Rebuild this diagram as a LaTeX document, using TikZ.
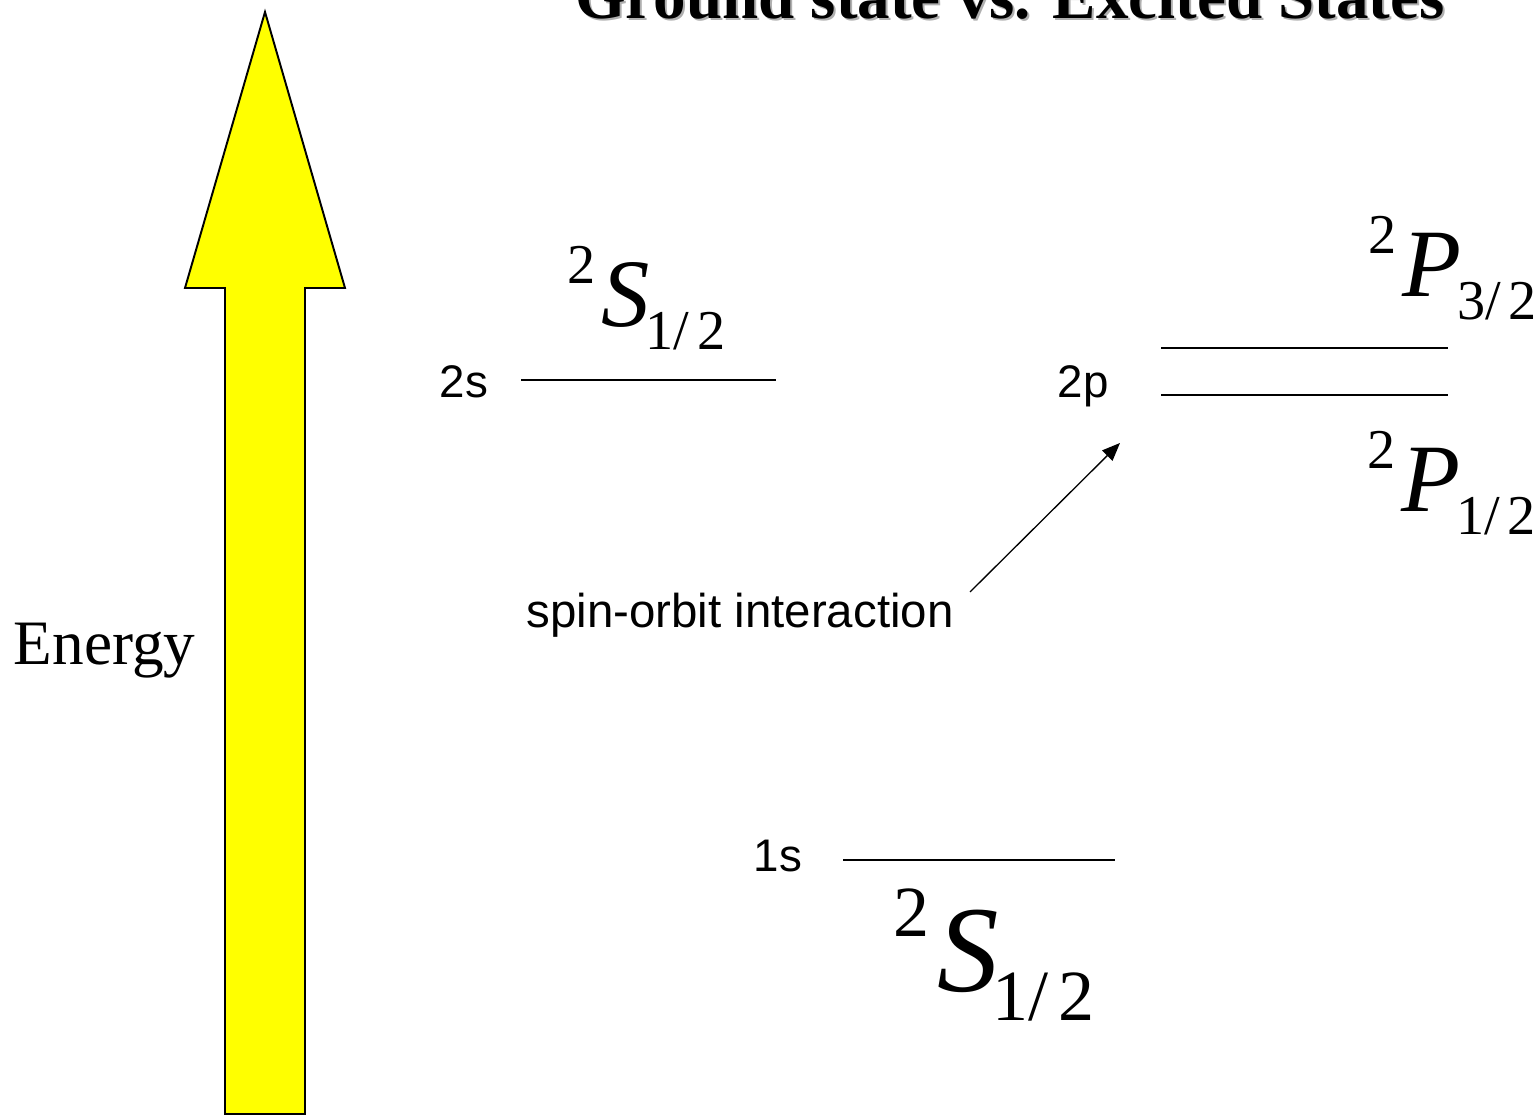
\documentclass[tikz,border=0pt]{standalone}
\usepackage{fontspec}
\setmainfont{Liberation Serif}
\setsansfont{Liberation Sans}
\usetikzlibrary{arrows.meta, positioning}
\definecolor{cyellow}{HTML}{FFFF00}
\definecolor{cshadow}{HTML}{B0B0B0}
% term symbol: #1 main size, #2 script size, #3 multiplicity, #4 letter, #5 J
\newcommand{\term}[5]{%
  \raisebox{0.45\dimexpr#1pt\relax}{\fontsize{#2}{#2}\selectfont #3}%
  \kern0.06\dimexpr#1pt\relax
  {\fontsize{#1}{#1}\selectfont\itshape #4}%
  \kern-0.05\dimexpr#1pt\relax
  \raisebox{-0.23\dimexpr#1pt\relax}{\fontsize{#2}{#2}\selectfont #5}}
\newcommand{\half}[1]{#1/\kern.14em 2}
\tikzset{
  every picture/.style={line width=1.1pt},
  level/.style={draw=black, line width=1.1pt},
  orb/.style={font=\sffamily\fontsize{26}{26}\selectfont, anchor=base, inner sep=0pt},
  termlbl/.style={anchor=base west, inner sep=0pt},
  arrow/.style={-{Triangle[length=3.6mm, width=2.9mm]}, line width=0.75pt},
  energy/.style={draw=black, fill=cyellow, line width=1.1pt, line join=miter},
  title/.style={font=\bfseries\fontsize{37}{37}\selectfont, anchor=base, inner sep=0pt},
}

\begin{document}
\begin{tikzpicture}
  \useasboundingbox (0,0) rectangle (30.78,22.32);
  % title, cut by the top edge
  \node[title, text=cshadow] (ttlshadow) at (20.24,21.90) {Ground state vs. Excited States};
  \node[title] (ttl) at (20.2,21.94) {Ground state vs. Excited States};
  % energy arrow
  \draw[energy] (4.50,0.04) -- (4.50,16.56) -- (3.70,16.56) -- (5.30,22.08)
    -- (6.90,16.56) -- (6.10,16.56) -- (6.10,0.04) -- cycle;
  \node[anchor=base west, inner sep=0pt, font=\fontsize{36}{36}\selectfont] (nrg) at (0.26,9.02) {Energy};
  % 2s
  \coordinate (s2a) at (10.42,14.72);
  \coordinate (s2b) at (15.52,14.72);
  \draw[level] (s2a) -- (s2b);
  \node[orb] (s2lbl) at (9.28,14.36) {2s};
  \node[termlbl] (s2term) at (11.34,15.78) {\term{55}{32}{2}{S}{\half{1}}};
  % 2p, split in two
  \coordinate (p2ua) at (23.22,15.36);
  \coordinate (p2ub) at (28.96,15.36);
  \coordinate (p2la) at (23.22,14.42);
  \coordinate (p2lb) at (28.96,14.42);
  \draw[level] (p2ua) -- (p2ub);
  \draw[level] (p2la) -- (p2lb);
  \node[orb] (p2lbl) at (21.66,14.36) {2p};
  \node[termlbl] (p32term) at (27.36,16.38) {\term{55}{32}{2}{P}{3/\kern.14em 2}};
  \node[termlbl] (p12term) at (27.34,12.08) {\term{55}{32}{2}{P}{\half{1}}};
  % 1s
  \coordinate (s1a) at (16.86,5.12);
  \coordinate (s1b) at (22.30,5.12);
  \draw[level] (s1a) -- (s1b);
  \node[orb] (s1lbl) at (15.56,4.88) {1s};
  \node[termlbl] (s1term) at (17.86,2.48) {\term{70}{41}{2}{S}{\half{1}}};
  % spin-orbit note
  \node[orb, font=\sffamily\fontsize{27}{27}\selectfont] (so) at (14.80,9.76) {spin-orbit interaction};
  \coordinate (soTail) at (19.40,10.48);
  \coordinate (soTip) at (22.40,13.46);
  \draw[arrow] (soTail) -- (soTip);
\end{tikzpicture}
\end{document}
